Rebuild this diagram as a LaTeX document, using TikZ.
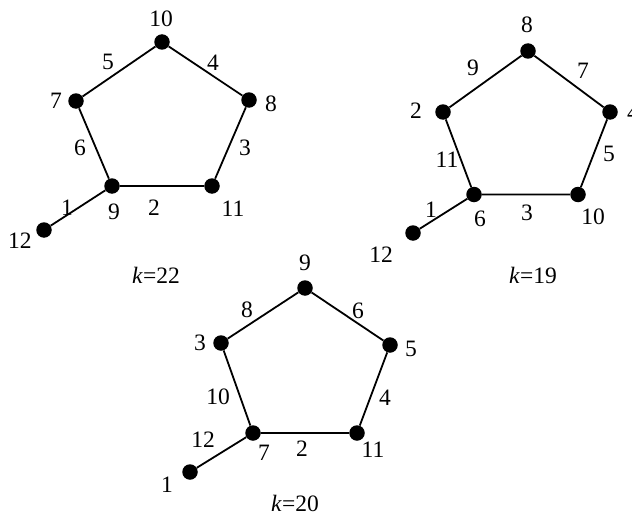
\documentclass[tikz,border=0pt]{standalone}
\usepackage{fontspec}
\setmainfont{Liberation Serif}
\begin{document}
\begin{tikzpicture}[x=1pt,y=-1pt,
  vtx/.style={circle,fill=black,inner sep=0pt,minimum size=15.5pt},
  lbl/.style={font=\fontsize{23.5}{26}\selectfont,inner sep=0pt},
  edge/.style={line width=1.8pt}]
\useasboundingbox (0,0) rectangle (632,519);
% graph k=22
\node[vtx] (a10) at (162,42) {};
\node[vtx] (a8) at (249,100) {};
\node[vtx] (a7) at (76,101) {};
\node[vtx] (a9) at (112,186) {};
\node[vtx] (a11) at (212,186) {};
\node[vtx] (a12) at (44,230) {};
\draw[edge] (a10) -- (a8) -- (a11) -- (a9) -- (a7) -- (a10);
\draw[edge] (a9) -- (a12);
\node[lbl] (la10) at (161,19) {10};
\node[lbl] (la8) at (271,104) {8};
\node[lbl] (la7) at (56,101) {7};
\node[lbl] (la9) at (114,212) {9};
\node[lbl] (la11) at (233,209) {11};
\node[lbl] (la12) at (20,241) {12};
\node[lbl] (ea5) at (108,62) {5};
\node[lbl] (ea4) at (213,63) {4};
\node[lbl] (ea6) at (80,148) {6};
\node[lbl] (ea3) at (245,148) {3};
\node[lbl] (ea2) at (154,208) {2};
\node[lbl] (ea1) at (67,208) {1};
\node[lbl] (ka) at (156,275) {\textit{k}=22};
% graph k=19
\node[vtx] (b8) at (528,51) {};
\node[vtx] (b4) at (610,112) {};
\node[vtx] (b2) at (443,112) {};
\node[vtx] (b6) at (474,194.5) {};
\node[vtx] (b10) at (578,194.5) {};
\node[vtx] (b12) at (413,233) {};
\draw[edge] (b8) -- (b4) -- (b10) -- (b6) -- (b2) -- (b8);
\draw[edge] (b6) -- (b12);
\node[lbl] (lb8) at (527,25) {8};
\node[lbl] (lb2) at (416,111) {2};
\node[lbl] (lb4) at (633,113) {4};
\node[lbl] (lb6) at (480,219) {6};
\node[lbl] (lb10) at (593,217) {10};
\node[lbl] (lb12) at (381,255) {12};
\node[lbl] (eb9) at (473,68) {9};
\node[lbl] (eb7) at (583,71) {7};
\node[lbl] (eb11) at (447,160) {11};
\node[lbl] (eb5) at (609,154) {5};
\node[lbl] (eb3) at (527,213) {3};
\node[lbl] (eb1) at (431,210) {1};
\node[lbl] (kb) at (533,275) {\textit{k}=19};
% graph k=20
\node[vtx] (c9) at (305,288) {};
\node[vtx] (c5) at (390,345) {};
\node[vtx] (c3) at (221,343) {};
\node[vtx] (c7) at (253,433) {};
\node[vtx] (c11) at (357,433) {};
\node[vtx] (c1) at (190,472) {};
\draw[edge] (c9) -- (c5) -- (c11) -- (c7) -- (c3) -- (c9);
\draw[edge] (c7) -- (c1);
\node[lbl] (lc9) at (305,263) {9};
\node[lbl] (lc5) at (411,349) {5};
\node[lbl] (lc3) at (200,343) {3};
\node[lbl] (lc7) at (264,453) {7};
\node[lbl] (lc11) at (373,450) {11};
\node[lbl] (lc1) at (167,485) {1};
\node[lbl] (ec12) at (203,440) {12};
\node[lbl] (ec10) at (218,397) {10};
\node[lbl] (ec8) at (247,310) {8};
\node[lbl] (ec6) at (358,311) {6};
\node[lbl] (ec4) at (385,398) {4};
\node[lbl] (ec2) at (302,449) {2};
\node[lbl] (kc) at (295,503) {\textit{k}=20};
\end{tikzpicture}
\end{document}
